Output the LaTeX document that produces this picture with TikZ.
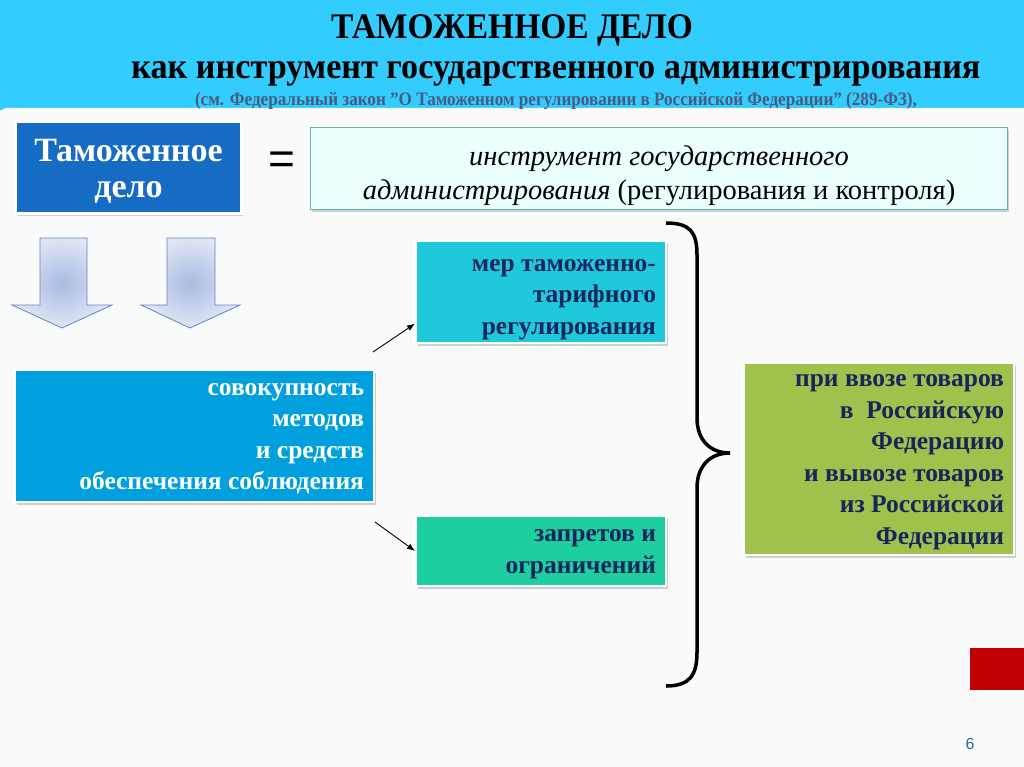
\documentclass[tikz,border=0pt]{standalone}
\usepackage{fontspec}
\setmainfont{Liberation Serif}
\setsansfont{Liberation Sans}
\usepackage{graphicx}
\usepackage{tikz}
\usetikzlibrary{arrows.meta,shadows}

\definecolor{shapka}{RGB}{51,204,255}
\definecolor{fon}{RGB}{249,250,250}
\definecolor{sinij}{RGB}{22,108,196}
\definecolor{goluboj}{RGB}{0,160,222}
\definecolor{birjuza}{RGB}{32,200,220}
\definecolor{myata}{RGB}{28,206,160}
\definecolor{olivka}{RGB}{160,194,76}
\definecolor{tjomnyj}{RGB}{22,38,92}
\definecolor{serosinij}{RGB}{72,92,128}
\definecolor{krasnyj}{RGB}{192,0,0}
\definecolor{strelka}{RGB}{100,130,200}
\definecolor{nomercvet}{RGB}{40,110,140}

\newcommand{\uzko}[2][0.8]{\scalebox{#1}[1]{#2}}

\tikzset{
  blok/.style={rectangle, anchor=north west, draw=white, line width=2pt,
    inner xsep=10pt, inner ysep=0pt, align=flush right, text=tjomnyj,
    font=\fontsize{25.5}{31.5}\selectfont\bfseries,
    execute at begin node=\strut, execute at end node=\strut,
    drop shadow={shadow xshift=1.5pt, shadow yshift=-2.5pt, opacity=0.35}},
  niže/.style={execute at begin node={\rule{0pt}{#1}}},
  vniz/.style={draw=strelka, line width=0.8pt, inner color=strelka!55, outer color=strelka!20}
}

\begin{document}
\begin{tikzpicture}[x=1pt, y=-1pt]
    \useasboundingbox (0,0) rectangle (1024,767);
    % fon i shapka
    \fill[fon] (0,0) rectangle (1024,767);
    \fill[shapka] (0,0) rectangle (1024,110);
    \fill[fon, rounded corners=5pt] (1,108) rectangle (1030,790);

    % zagolovok
    \node (zag) at (512,30) {\fontsize{36}{36}\selectfont\bfseries\uzko[0.93]{ТАМОЖЕННОЕ ДЕЛО}};
    \node (podzag) at (556,74) {\fontsize{36}{36}\selectfont\bfseries\uzko[0.95]{как инструмент государственного администрирования}};
    \node[text=serosinij] (zakon) at (556,101) {\fontsize{19}{19}\selectfont\bfseries\uzko[0.9]{(см. Федеральный закон "О Таможенном регулировании в Российской Федерации" (289-ФЗ),}};

    % verhnij rjad
    \node[blok, niže=35pt, fill=sinij, line width=3pt, text=white, align=flush center, minimum width=226pt, minimum height=92pt,
          text width=206pt, font=\fontsize{34}{36}\selectfont\bfseries] (delo) at (14,120) {Таможенное\\дело};
    \node[font=\sffamily\fontsize{46}{46}\selectfont] (ravno) at (282,163) {=};
    \node[blok, niže=38pt, draw=teal!60, line width=1pt, left color=cyan!8, middle color=cyan!30, right color=cyan!8,
          align=flush center, text=black, minimum width=697pt, minimum height=79pt, text width=677pt,
          font=\fontsize{28.5}{34}\selectfont] (instr) at (310,127)
          {{\itshape инструмент государственного}\\{\itshape администрирования} (регулирования и контроля)};

    % strelki vniz
    \shadedraw[vniz] (40,238) -- (87,238) -- (87,305) -- (112,305) -- (62,328) -- (12,305) -- (40,305) -- cycle;
    \shadedraw[vniz] (167,238) -- (215,238) -- (215,305) -- (240,305) -- (190,328) -- (141,305) -- (167,305) -- cycle;

    % bloki
    \node[blok, fill=goluboj, text=white, minimum width=359pt, minimum height=132pt, text width=339pt] (sovok) at (14,369)
          {совокупность\\методов\\и средств\\обеспечения соблюдения};
    \node[blok, niže=30pt, fill=birjuza, minimum width=250pt, minimum height=100pt, text width=230pt] (mera) at (415,240)
          {мер таможенно-\\тарифного\\регулирования};
    \node[blok, fill=myata, minimum width=250pt, minimum height=70pt, text width=230pt] (zapr) at (415,515)
          {запретов и\\ограничений};
    \node[blok, fill=olivka, minimum width=270pt, minimum height=192pt, text width=250pt] (vvoz) at (743,362)
          {при ввозе товаров\\в~ Российскую\\Федерацию\\и вывозе товаров\\из Российской\\Федерации};

    % strelki k blokam
    \coordinate (s1) at (373,352);
    \coordinate (s2) at (375,522);
    \draw[-{Latex[length=8pt,width=6pt]}, line width=0.9pt] (s1) -- (mera.194);
    \draw[-{Latex[length=8pt,width=6pt]}, line width=0.9pt] (s2) -- (zapr.west);

    % figurnaja skobka
    \draw[line width=3.5pt] (666,223) .. controls (690,223) and (697,232) .. (697,255) -- (697,418)
        .. controls (697,440) and (710,453) .. (730,453) .. controls (710,453) and (697,466) .. (697,488)
        -- (697,652) .. controls (697,675) and (690,686) .. (666,686);

    % krasnyj prjamougolnik i nomer
    \fill[krasnyj] (970,648) rectangle (1024,690);
    \node[text=nomercvet, font=\sffamily\fontsize{16}{16}\selectfont] (nomer) at (970,744) {6};
\end{tikzpicture}
\end{document}
